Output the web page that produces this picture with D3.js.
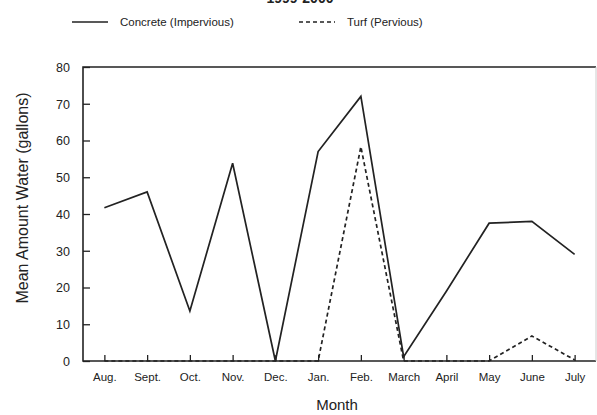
<!DOCTYPE html>
<html>
<head>
<meta charset="utf-8">
<script src="https://cdn.jsdelivr.net/npm/d3@7"></script>
<style>
  body { margin: 0; background: #fff; }
  svg { font-family: "Liberation Sans", Arial, sans-serif; }
</style>
</head>
<body>
<svg id="chart" width="597" height="415"></svg>
<script>
// data
const months = ["Aug.", "Sept.", "Oct.", "Nov.", "Dec.", "Jan.", "Feb.", "March", "April", "May", "June", "July"]
const concrete = [41.7, 46, 13.6, 53.8, 0, 57, 72, 1.2, 19, 37.5, 38, 29]
const turf = [0, 0, 0, 0, 0, 0, 58.3, 0, 0, 0, 6.8, 0.3]
const yTicks = [0, 10, 20, 30, 40, 50, 60, 70, 80]
const seriesNames = ["Concrete (Impervious)", "Turf (Pervious)"]

const svg = d3.select("#chart")
const margin = { left: 83, top: 67, right: 596, bottom: 361 }
const ink = "#222"

const x = d3.scalePoint().domain(months).range([margin.left, margin.right]).padding(0.5)
const y = d3.scaleLinear().domain([0, 80]).range([margin.bottom, margin.top])

// title, mostly cut by the top edge as in the scan
svg.append("text")
  .attr("x", 300).attr("y", 3)
  .attr("text-anchor", "middle")
  .attr("font-size", 14).attr("font-weight", "bold")
  .attr("fill", ink)
  .text("1999-2000")

// frame: dark top/left/bottom, faint right edge
svg.append("path")
  .attr("d", "M" + margin.right + "," + margin.top + "H" + margin.left + "V" + margin.bottom + "H" + margin.right)
  .attr("fill", "none").attr("stroke", ink).attr("stroke-width", 1.6)
svg.append("line")
  .attr("x1", margin.right).attr("x2", margin.right)
  .attr("y1", margin.top).attr("y2", margin.bottom)
  .attr("stroke", "#ccc").attr("stroke-width", 1)

// y axis, ticks pointing inward
const yAxis = svg.append("g")
  .attr("transform", "translate(" + margin.left + ",0)")
  .call(d3.axisRight(y).tickValues(yTicks).tickSize(7).tickFormat(""))
yAxis.select(".domain").remove()
yAxis.selectAll("line").attr("stroke", ink).attr("stroke-width", 1.3)
yAxis.selectAll(".tick").append("text")
  .attr("x", -13).attr("dy", "0.35em")
  .attr("text-anchor", "end")
  .attr("font-size", 12.5).attr("fill", ink)
  .text(d => d)

// x axis, ticks pointing inward
const xAxis = svg.append("g")
  .attr("transform", "translate(0," + margin.bottom + ")")
  .call(d3.axisTop(x).tickSize(6).tickFormat(""))
xAxis.select(".domain").remove()
xAxis.selectAll("line").attr("stroke", ink).attr("stroke-width", 1.3)
xAxis.selectAll(".tick").append("text")
  .attr("y", 20)
  .attr("text-anchor", "middle")
  .attr("font-size", 11.5).attr("fill", ink)
  .text(d => d)

// axis titles
svg.append("text")
  .attr("x", 337).attr("y", 410)
  .attr("text-anchor", "middle")
  .attr("font-size", 15).attr("fill", ink)
  .text("Month")

svg.append("text")
  .attr("transform", "translate(28,198) rotate(-90)")
  .attr("text-anchor", "middle")
  .attr("font-size", 16).attr("fill", ink)
  .text("Mean Amount Water (gallons)")

// lines
const line = d3.line()
  .x((d, i) => x(months[i]))
  .y(d => y(d))

svg.append("path")
  .datum(turf)
  .attr("fill", "none")
  .attr("stroke", ink).attr("stroke-width", 1.7)
  .attr("stroke-dasharray", "4,3")
  .attr("d", line)

svg.append("path")
  .datum(concrete)
  .attr("fill", "none")
  .attr("stroke", ink).attr("stroke-width", 1.7)
  .attr("d", line)

// legend
const legend = [
  { name: seriesNames[0], x: 72, dash: null },
  { name: seriesNames[1], x: 299, dash: "4,3" }
]
legend.forEach(function (l) {
  svg.append("line")
    .attr("x1", l.x).attr("x2", l.x + 36)
    .attr("y1", 22).attr("y2", 22)
    .attr("stroke", ink).attr("stroke-width", 1.7)
    .attr("stroke-dasharray", l.dash)
  svg.append("text")
    .attr("x", l.x + 48).attr("y", 26)
    .attr("font-size", 11.5).attr("fill", ink)
    .text(l.name)
})
</script>
</body>
</html>
